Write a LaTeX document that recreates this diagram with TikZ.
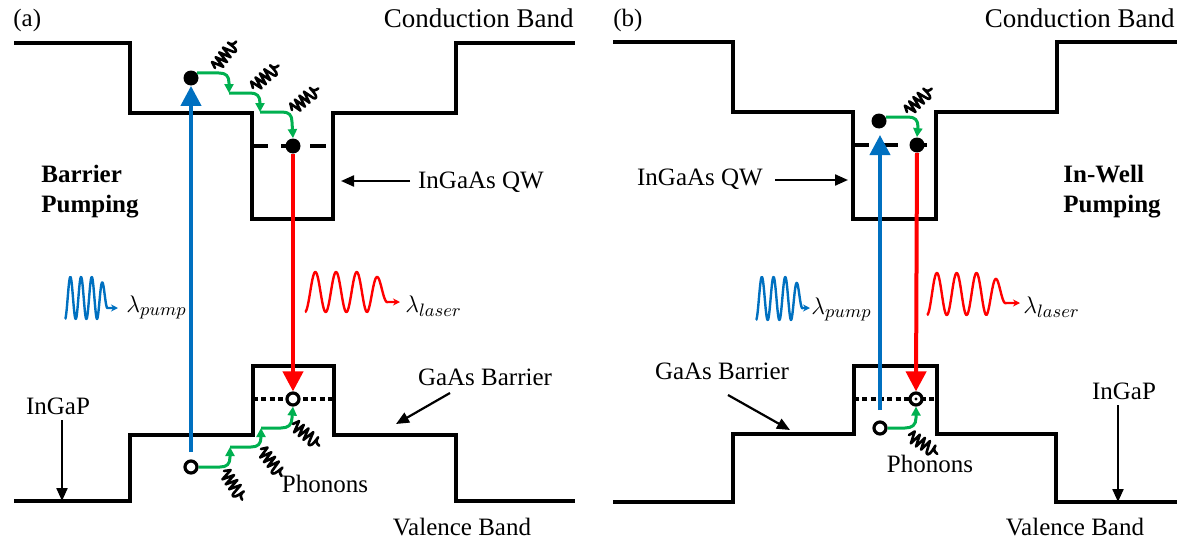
\documentclass[tikz,border=0pt]{standalone}
\usepackage{fontspec}
\setmainfont{Liberation Serif}
\usetikzlibrary{arrows.meta}
\definecolor{pumpblue}{HTML}{0070C0}
\definecolor{relaxgreen}{HTML}{00B050}
\definecolor{laserred}{HTML}{FF0000}
% #1 colour, #2 start x, #3 period, #4 centre y, #5 amplitude, #6 final amplitude, #7 tip x
\newcommand\lightwave[7]{%
  \draw[#1, line width=1.2pt, line join=round, -{Stealth[length=3.5pt,width=3.5pt]}]
    plot[domain=0.5:4.5, samples=160, variable=\t]
      ({#2+#3*(\t-0.5)}, {#4-(#5-(#5-#6)*max(0,\t-3.5))*cos(360*\t)})
    -- (#7, {#4+#6});}
\tikzset{
  spring/.pic={\draw[line width=1.3pt, line join=round, line cap=round]
    (0,0) -- (3,-6) -- (6,6) -- (9,-6) -- (12,6) -- (15,-6) -- (18,6) -- (21,-6) -- (24,5)
    .. controls (25,8) and (28,7) .. (28,1) -- (28,-5)
    .. controls (28,-1) and (30,1) .. (34,1);}
}
\begin{document}
\begin{tikzpicture}[x=0.5pt,y=-0.5pt,
  band/.style={line width=2pt, line join=miter},
  qwlevel/.style={line width=2pt, dash pattern=on 8pt off 6.5pt},
  hhlevel/.style={line width=2pt, dash pattern=on 2.5pt off 1.67pt},
  lbl/.style={font=\fontsize{12.5}{14.5}\selectfont, inner sep=0pt},
  cblbl/.style={font=\fontsize{13.5}{15}\selectfont, inner sep=0pt},
  boldlbl/.style={font=\fontsize{12.5}{14.5}\selectfont\bfseries, inner sep=0pt, anchor=base west},
  ptr/.style={line width=1.1pt, -{Triangle[length=6.5pt,width=5.5pt]}},
  pumparrow/.style={line width=2pt, draw=pumpblue, -{Triangle[length=10pt,width=10pt]}},
  laserarrow/.style={line width=2pt, draw=laserred, -{Triangle[length=10pt,width=10pt]}},
  relax/.style={line width=1.5pt, draw=relaxgreen, -{Triangle[length=4.5pt,width=4.5pt]}},
  electron/.style={circle, fill=black, inner sep=0pt, minimum size=7.5pt},
  hole/.style={circle, draw=black, fill=white, line width=1.6pt, inner sep=0pt, minimum size=6pt}
]
\useasboundingbox (0,0) rectangle (1180,546);

% ---------------- panel (a) ----------------
\draw[band] (14,43) -- (130,43) -- (130,113) -- (252,113) -- (252,219) -- (333,219)
  -- (333,113) -- (456,113) -- (456,43) -- (575,43);
\draw[band] (14,501) -- (130,501) -- (130,435) -- (253,435) -- (253,366) -- (334,366)
  -- (334,435) -- (456,435) -- (456,501) -- (575,501);
\draw[qwlevel] (252,146) -- (333,146);
\draw[hhlevel] (253,399) -- (334,399);

\node[electron] (ea1) at (191,78) {};
\node[electron] (ea2) at (293,146) {};
\node[hole] (ha1) at (191,467) {};
\node[hole] (ha2) at (293,399) {};

\coordinate (pa) at (191,452);
\draw[pumparrow] (pa) -- (ea1.south);
\draw[laserarrow] (ea2.south) -- (ha2.north);

\coordinate (ga1) at (229,93);
\coordinate (ga2) at (260,112);
\draw[relax] (ea1.40) -- (219,73) .. controls (226,73) and (229,76) .. (229,83) -- (ga1);
\draw[relax] (ga1) -- (250,93) .. controls (257,93) and (260,96) .. (260,103) -- (ga2);
\draw[relax] (ga2) -- (282,112) .. controls (289,112) and (292,115) .. (292,122) -- (ea2.north);

\coordinate (gb1) at (230,447);
\coordinate (gb2) at (261,428);
\draw[relax] (ha1.east) -- (220,467) .. controls (227,467) and (230,464) .. (230,457) -- (gb1);
\draw[relax] (gb1) -- (251,447) .. controls (258,447) and (261,444) .. (261,437) -- (gb2);
\draw[relax] (gb2) -- (281,428) .. controls (288,428) and (292,425) .. (292,418) -- (ha2.south);

\pic[rotate=53] at (215,68) {spring};
\pic[rotate=43] at (253,88) {spring};
\pic[rotate=41] at (292,110) {spring};
\pic[rotate=-56] at (224,471) {spring};
\pic[rotate=-51] at (261,449) {spring};
\pic[rotate=-38] at (293,424) {spring};

\lightwave{pumpblue}{65}{10.7}{298}{21}{10}{118}
\lightwave{laserred}{305}{20.7}{292}{20}{10}{400}
\node[lbl, anchor=base west] (lpa) at (126,312) {$\lambda_{pump}$};
\node[lbl, anchor=base west] (lla) at (405,312) {$\lambda_{laser}$};

\node[lbl, anchor=base west] (taga) at (13,26) {(a)};
\node[cblbl, anchor=base east] (cba) at (574,27) {Conduction Band};
\node[lbl, anchor=base] (vba) at (462,535) {Valence Band};
\node[boldlbl] (bpa1) at (41,182) {Barrier};
\node[boldlbl] (bpa2) at (41,212) {Pumping};
\node[lbl, anchor=base] (qwa) at (481,188) {InGaAs QW};
\coordinate (qwat) at (341,181);
\draw[ptr] (410,181) -- (qwat);
\node[lbl, anchor=base] (gba) at (485,385) {GaAs Barrier};
\coordinate (gbat) at (396,424);
\draw[ptr] (450,393) -- (gbat);
\node[lbl, anchor=base] (inga) at (58,414) {InGaP};
\coordinate (ingat) at (62,501);
\draw[ptr] (62,420) -- (ingat);
\node[lbl, anchor=base] (pha) at (325,492) {Phonons};

% ---------------- panel (b) ----------------
\draw[band] (613,42) -- (733,42) -- (733,112) -- (853,112) -- (853,219) -- (936,219)
  -- (936,112) -- (1057,112) -- (1057,42) -- (1177,42);
\draw[band] (613,502) -- (733,502) -- (733,434) -- (854,434) -- (854,366) -- (937,366)
  -- (937,434) -- (1056,434) -- (1056,502) -- (1177,502);
\draw[qwlevel] (853,145) -- (936,145);
\draw[hhlevel] (854,399) -- (937,399);

\node[electron] (eb1) at (879,121) {};
\node[electron] (eb2) at (917,145) {};
\node[hole] (hb1) at (880,428) {};
\node[hole] (hb2) at (916,399) {};
\fill (hb2.center) circle (1.6);

\coordinate (pb) at (880,410);
\coordinate (pbt) at (880,135);
\draw[pumparrow] (pb) -- (pbt);
\draw[laserarrow] (eb2.south) -- (hb2.north);

\draw[relax] (eb1.30) -- (908,117) .. controls (915,117) and (918,120) .. (918,127) -- (eb2.north);
\draw[relax] (hb1.east) -- (905,428) .. controls (912,428) and (916,425) .. (916,418) -- (hb2.south);

\pic[rotate=45] at (907,112) {spring};
\pic[rotate=-32] at (909,435) {spring};

\lightwave{pumpblue}{756}{11.7}{298.5}{21.5}{9.5}{810}
\lightwave{laserred}{927}{19.8}{294}{21}{9}{1020}
\node[lbl, anchor=base west] (lpb) at (811,314) {$\lambda_{pump}$};
\node[lbl, anchor=base west] (llb) at (1023,313) {$\lambda_{laser}$};

\node[lbl, anchor=base west] (tagb) at (613,26) {(b)};
\node[cblbl, anchor=base east] (cbb) at (1175,27) {Conduction Band};
\node[lbl, anchor=base] (vbb) at (1075,535) {Valence Band};
\node[boldlbl] (bpb1) at (1063,182) {In-Well};
\node[boldlbl] (bpb2) at (1063,212) {Pumping};
\node[lbl, anchor=base] (qwb) at (700,185) {InGaAs QW};
\coordinate (qwbt) at (848,180);
\draw[ptr] (775,180) -- (qwbt);
\node[lbl, anchor=base] (gbb) at (722,379) {GaAs Barrier};
\coordinate (gbbt) at (790,430);
\draw[ptr] (728,395) -- (gbbt);
\node[lbl, anchor=base] (ingb) at (1124,399) {InGaP};
\coordinate (ingbt) at (1118,502);
\draw[ptr] (1118,405) -- (ingbt);
\node[lbl, anchor=base] (phb) at (930,472) {Phonons};
\end{tikzpicture}
\end{document}
